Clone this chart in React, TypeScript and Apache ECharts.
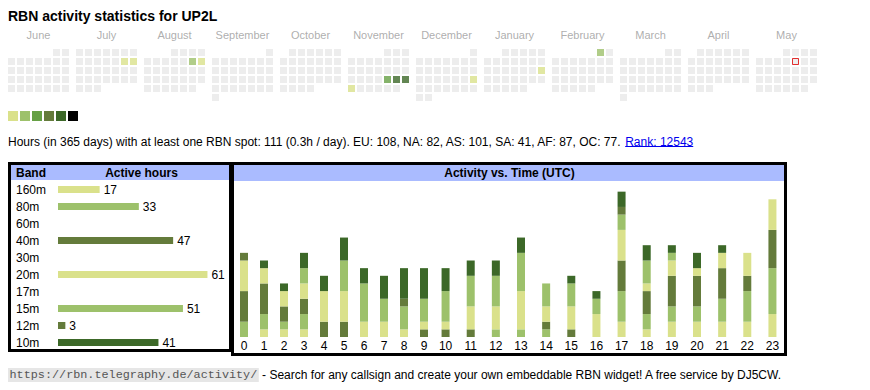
import React, { useEffect, useRef } from "react";
import * as echarts from "echarts";

const FONT = "'Liberation Sans', Arial, Helvetica, sans-serif";
const MONO = "'Liberation Mono', 'Courier New', monospace";

const TITLE = "RBN activity statistics for UP2L";

// Calendar: June 2024 .. May 2025
const START_YEAR = 2024;
const START_MONTH = 5; // June (0-based)
const MONTH_NAMES = ["June", "July", "August", "September", "October", "November", "December", "January", "February", "March", "April", "May"];
const ACTIVE_DAYS = ["2024-07-13", "2024-07-14", "2024-08-10", "2024-08-11", "2024-11-22", "2024-11-23", "2024-11-24", "2024-11-25", "2024-12-22", "2025-01-19", "2025-02-01"];
const ACTIVE_LEVELS = [1, 1, 2, 1, 3, 5, 5, 1, 1, 1, 2];
const TODAY = "2025-05-09";

const LEVEL_COLORS = ["#dae18b", "#9dc16b", "#66a045", "#647b3b", "#3c6828", "#000000"];
const EMPTY_COLOR = "#e9e9e9";

const STATS_TEXT = "Hours (in 365 days) with at least one RBN spot: 111 (0.3h / day). EU: 108, NA: 82, AS: 101, SA: 41, AF: 87, OC: 77.";
const RANK_TEXT = "Rank: 12543";

// Band table
const BANDS = ["160m", "80m", "60m", "40m", "30m", "20m", "17m", "15m", "12m", "10m"];
const BAND_HOURS = [17, 33, 0, 47, 0, 61, 0, 51, 3, 41];
const BAND_COLORS = ["#dae18b", "#9dc16b", "#66a045", "#647b3b", "#3c6828", "#dae18b", "#9dc16b", "#9dc16b", "#647b3b", "#3c6828"];

// Activity vs time (UTC)
const HOURS = ["0", "1", "2", "3", "4", "5", "6", "7", "8", "9", "10", "11", "12", "13", "14", "15", "16", "17", "18", "19", "20", "21", "22", "23"];
const HOURLY_BANDS = ["160m", "80m", "40m", "20m", "15m", "12m", "10m"];
const HOURLY_COLORS = ["#dae18b", "#9dc16b", "#647b3b", "#dae18b", "#9dc16b", "#647b3b", "#3c6828"];
const H160 = [0, 1, 1, 1, 0, 0, 0, 0, 0, 0, 0, 0, 0, 0, 0, 0, 0, 2, 1, 2, 2, 2, 2, 3];
const H80 = [2, 2, 1, 2, 0, 0, 0, 0, 0, 0, 0, 0, 1, 1, 1, 0, 0, 4, 2, 2, 2, 3, 4, 6];
const H40 = [4, 4, 2, 2, 2, 2, 0, 0, 0, 1, 1, 1, 0, 0, 1, 1, 0, 4, 3, 4, 4, 4, 2, 5];
const H20 = [4, 2, 2, 2, 4, 4, 2, 2, 1, 1, 1, 3, 3, 5, 2, 3, 3, 4, 1, 2, 1, 2, 3, 4];
const H15 = [0, 0, 0, 2, 0, 4, 5, 3, 3, 3, 4, 4, 4, 5, 3, 3, 2, 2, 3, 1, 0, 0, 0, 0];
const H12 = [1, 0, 0, 0, 0, 0, 0, 0, 1, 0, 0, 0, 0, 0, 0, 0, 0, 1, 0, 0, 0, 0, 0, 0];
const H10 = [0, 1, 1, 2, 2, 3, 2, 3, 4, 4, 3, 2, 2, 2, 0, 1, 1, 2, 2, 1, 2, 1, 0, 0];
const HOURLY = [H160, H80, H40, H20, H15, H12, H10];

const FOOTER_URL = "https://rbn.telegraphy.de/activity/";
const FOOTER_TEXT = " - Search for any callsign and create your own embeddable RBN widget! A free service by DJ5CW.";

function pad(n: number) {
  return n < 10 ? "0" + n : String(n);
}

function measure(text: string, font: string) {
  const ctx = document.createElement("canvas").getContext("2d")!;
  ctx.font = font;
  return ctx.measureText(text).width;
}

export default function App() {
  const ref = useRef<HTMLDivElement>(null);

  useEffect(() => {
    const chart = echarts.init(ref.current!, null, { renderer: "svg" });

    const MONTH_SPAN = 68 / 9;
    const cells: any[] = [];
    const monthLabels: any[] = [];
    let todayPos: number[] | null = null;
    for (let m = 0; m < 12; m++) {
      const y = START_YEAR + Math.floor((START_MONTH + m) / 12);
      const mo = (START_MONTH + m) % 12;
      const offset = (new Date(Date.UTC(y, mo, 1)).getUTCDay() + 6) % 7;
      const days = new Date(Date.UTC(y, mo + 1, 0)).getUTCDate();
      monthLabels.push({ value: [m * MONTH_SPAN + 3, -1.95], name: MONTH_NAMES[m] });
      for (let d = 1; d <= days; d++) {
        const idx = offset + d - 1;
        const key = `${y}-${pad(mo + 1)}-${pad(d)}`;
        const ai = ACTIVE_DAYS.indexOf(key);
        const pos = [m * MONTH_SPAN + (idx % 7), Math.floor(idx / 7)];
        cells.push({
          value: pos,
          itemStyle: { color: ai >= 0 ? LEVEL_COLORS[ACTIVE_LEVELS[ai] - 1] : EMPTY_COLOR },
        });
        if (key === TODAY) todayPos = pos;
      }
    }

    const statsFont = `12px ${FONT}`;
    const statsW = measure(STATS_TEXT + " ", statsFont);
    const rankW = measure(RANK_TEXT, statsFont);
    const monoFont = `11.8px ${MONO}`;
    const monoW = measure(FOOTER_URL, monoFont);

    const hourSeries: any[] = [];
    HOURLY.forEach((arr, bi) => {
      [0, 1].forEach((g) => {
        const data = g === 0 ? arr.slice(0, 10) : arr.slice(10);
        hourSeries.push({
          type: "bar",
          name: HOURLY_BANDS[bi],
          xAxisIndex: 2 + g,
          yAxisIndex: 2 + g,
          stack: "hours" + g,
          barWidth: 8,
          itemStyle: { color: HOURLY_COLORS[bi] },
          data,
        });
      });
    });

    const option: any = {
      animation: false,
      textStyle: { fontFamily: FONT },
      grid: [
        { left: 11.5, top: 34.5, width: 810, height: 63 },
        { left: 58, top: 181, width: 171.5, height: 170 },
        { left: 234, top: 184, width: 200, height: 153 },
        { left: 433, top: 184, width: 352, height: 153 },
      ],
      xAxis: [
        { gridIndex: 0, type: "value", min: 0, max: 90, show: false },
        { gridIndex: 1, type: "value", min: 0, max: 70, show: false },
        {
          gridIndex: 2, type: "category", data: HOURS.slice(0, 10),
          axisLine: { show: false }, axisTick: { show: false },
          axisLabel: { color: "#000", fontSize: 12, margin: 3, fontFamily: FONT },
        },
        {
          gridIndex: 3, type: "category", data: HOURS.slice(10),
          axisLine: { show: false }, axisTick: { show: false },
          axisLabel: { color: "#000", fontSize: 12, margin: 3, fontFamily: FONT },
        },
      ],
      yAxis: [
        { gridIndex: 0, type: "value", min: -2, max: 5, inverse: true, show: false },
        {
          gridIndex: 1, type: "category", data: BANDS, inverse: true,
          axisLine: { show: false }, axisTick: { show: false }, splitLine: { show: false },
          axisLabel: { align: "left", margin: 42, color: "#000", fontSize: 12, fontFamily: FONT },
        },
        { gridIndex: 2, type: "value", min: 0, max: 20, show: false },
        { gridIndex: 3, type: "value", min: 0, max: 20, show: false },
      ],
      series: [
        {
          type: "scatter", xAxisIndex: 0, yAxisIndex: 0, symbol: "rect", symbolSize: 7,
          data: cells, silent: true,
        },
        {
          type: "scatter", xAxisIndex: 0, yAxisIndex: 0, symbol: "rect", symbolSize: 6,
          itemStyle: { color: "#ececec", borderColor: "#e00000", borderWidth: 1 },
          data: todayPos ? [todayPos] : [], z: 3, silent: true,
        },
        {
          type: "scatter", xAxisIndex: 0, yAxisIndex: 0, symbolSize: 1,
          itemStyle: { color: "rgba(0,0,0,0)" },
          label: { show: true, position: "inside", formatter: "{b}", color: "#999", fontSize: 11, fontFamily: FONT },
          data: monthLabels, silent: true,
        },
        {
          type: "bar", xAxisIndex: 1, yAxisIndex: 1, barWidth: 7,
          data: BAND_HOURS.map((v, i) => ({ value: v, itemStyle: { color: BAND_COLORS[i] } })),
          label: {
            show: true, position: "right", distance: 4, color: "#000", fontSize: 12, fontFamily: FONT,
            formatter: (p: any) => (p.value ? String(p.value) : ""),
          },
        },
        ...hourSeries,
      ],
      graphic: [
        { type: "text", x: 8, y: 16, silent: true, style: { text: TITLE, fontSize: 14, fontWeight: "bold", fontFamily: FONT, fill: "#000", verticalAlign: "middle" } },
        ...LEVEL_COLORS.map((c, i) => ({ type: "rect", silent: true, shape: { x: 8 + i * 12, y: 111, width: 10, height: 10 }, style: { fill: c } })),
        { type: "text", x: 8, y: 141.5, silent: true, style: { text: STATS_TEXT, fontSize: 12, fontFamily: FONT, fill: "#000", verticalAlign: "middle" } },
        { type: "text", x: 8 + statsW, y: 141.5, silent: true, style: { text: RANK_TEXT, fontSize: 12, fontFamily: FONT, fill: "#0000ee", verticalAlign: "middle" } },
        { type: "line", silent: true, shape: { x1: 8 + statsW, y1: 146.5, x2: 8 + statsW + rankW, y2: 146.5 }, style: { stroke: "#0000ee", lineWidth: 1 } },
        // band table
        { type: "rect", silent: true, shape: { x: 11, y: 165, width: 218, height: 15 }, style: { fill: "#aabbff" } },
        { type: "rect", silent: true, shape: { x: 9.5, y: 163.5, width: 221, height: 187 }, style: { fill: "none", stroke: "#000", lineWidth: 3 } },
        { type: "text", x: 16, y: 173, silent: true, style: { text: "Band", fontSize: 12, fontWeight: "bold", fontFamily: FONT, fill: "#000", verticalAlign: "middle" } },
        { type: "text", x: 141.5, y: 173, silent: true, style: { text: "Active hours", fontSize: 12, fontWeight: "bold", fontFamily: FONT, fill: "#000", align: "center", verticalAlign: "middle" } },
        // activity box
        { type: "rect", silent: true, shape: { x: 234, y: 165, width: 550, height: 16 }, style: { fill: "#aabbff" } },
        { type: "rect", silent: true, shape: { x: 232.5, y: 163.5, width: 553, height: 191 }, style: { fill: "none", stroke: "#000", lineWidth: 3 } },
        { type: "text", x: 509.5, y: 173, silent: true, style: { text: "Activity vs. Time (UTC)", fontSize: 12, fontWeight: "bold", fontFamily: FONT, fill: "#000", align: "center", verticalAlign: "middle" } },
        // footer
        { type: "rect", silent: true, shape: { x: 8, y: 368, width: monoW + 3, height: 14 }, style: { fill: "#e6e6e6" } },
        { type: "text", x: 9.5, y: 375, silent: true, style: { text: FOOTER_URL, fontSize: 11.8, fontFamily: MONO, fill: "#555", verticalAlign: "middle" } },
        { type: "text", x: 8 + monoW + 3, y: 375, silent: true, style: { text: FOOTER_TEXT, fontSize: 12, fontFamily: FONT, fill: "#000", verticalAlign: "middle" } },
      ],
    };

    chart.setOption(option);
    return () => chart.dispose();
  }, []);

  return <div ref={ref} style={{ position: "absolute", left: 0, top: 0, width: 870, height: 390 }} />;
}
